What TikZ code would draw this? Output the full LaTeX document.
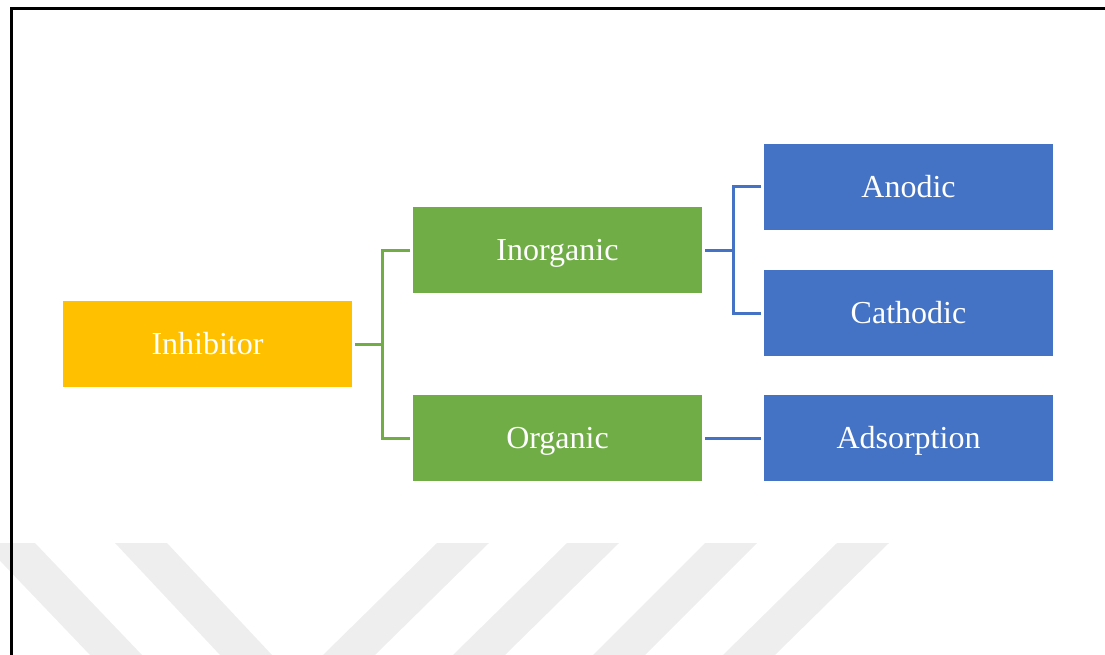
\documentclass[tikz,border=0pt]{standalone}
\usepackage{fontspec}
\setmainfont{Liberation Serif}
\usepackage{xcolor}
\usepackage{tikz}
\usetikzlibrary{arrows.meta,positioning}
\definecolor{InhYellow}{HTML}{FFC000}
\definecolor{InhGreen}{HTML}{70AD47}
\definecolor{InhBlue}{HTML}{4472C4}
\definecolor{MarkGray}{HTML}{EEEEEE}

\tikzset{
  catbox/.style={minimum width=289pt,minimum height=86pt,inner sep=0pt,
                 text height=26pt,text depth=6pt,
                 text=white,font=\fontsize{32}{38}\selectfont},
  treeline/.style={line width=3pt,shorten <=3pt,shorten >=3pt}
}

\begin{document}
\begin{tikzpicture}[x=1pt,y=-1pt]
        \useasboundingbox (0,0) rectangle (1105,655);
        % watermark stripes
        \begin{scope}
          \clip (0,0) rectangle (1105,655);
          \foreach \tx/\bx in {-17/90,115/220}
            \fill[MarkGray] (\tx,543) -- ++(52,0) -- (\bx+52,655) -- (\bx,655) -- cycle;
          \foreach \tx/\bx in {437/323,567/453,705/593,837/723}
            \fill[MarkGray] (\tx,543) -- ++(52,0) -- (\bx+52,655) -- (\bx,655) -- cycle;
        \end{scope}
        % frame
        \draw[line width=3pt] (11,656) -- (11,9) -- (1106,9);

        \node[catbox,fill=InhYellow] (inh) at (207.5,344) {Inhibitor};
        \node[catbox,fill=InhGreen] (inorg) at (557.5,250) {Inorganic};
        \node[catbox,fill=InhGreen] (org) at (557.5,438) {Organic};
        \node[catbox,fill=InhBlue] (anod) at (908.5,187) {Anodic};
        \node[catbox,fill=InhBlue] (cath) at (908.5,313) {Cathodic};
        \node[catbox,fill=InhBlue] (adsorp) at (908.5,438) {Adsorption};

        \draw[treeline,InhGreen] (inh.east) -- ++(30,0) |- (inorg.west);
        \draw[treeline,InhGreen] (inh.east) -- ++(30,0) |- (org.west);
        \draw[treeline,InhBlue] (inorg.east) -- ++(31,0) |- (anod.west);
        \draw[treeline,InhBlue] (inorg.east) -- ++(31,0) |- (cath.west);
        \draw[treeline,InhBlue] (org.east) -- (adsorp.west);
      \end{tikzpicture}
\end{document}
